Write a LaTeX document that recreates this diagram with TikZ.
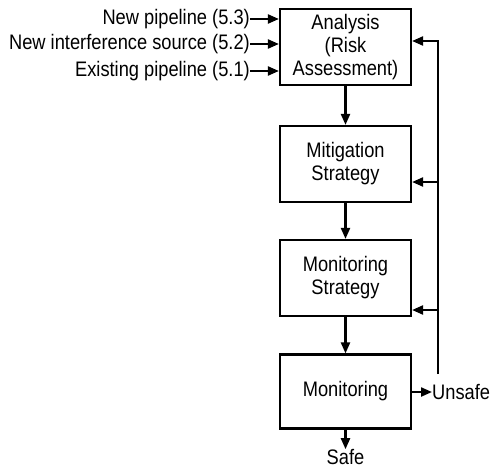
\documentclass[tikz,border=0pt]{standalone}
\usepackage{fontspec}
\setmainfont{Liberation Sans}[FakeStretch=0.87]
\usetikzlibrary{arrows.meta}
\begin{document}
\begin{tikzpicture}[x=1pt,y=-1pt,
  box/.style={draw,line width=2.2pt,minimum width=131pt,minimum height=76pt,align=center,inner sep=0pt,font=\fontsize{21}{23}\selectfont},
  lbl/.style={inner sep=0pt,font=\fontsize{21}{23}\selectfont},
  arr/.style={line width=2.2pt,-{Triangle[length=11pt,width=9pt]}}]
\useasboundingbox (0,0) rectangle (492,471);
\node[box] (an) at (345.5,47) {Analysis\\(Risk\\Assessment)};
\node[box] (mit) at (345.5,164) {Mitigation\\Strategy};
\node[box] (ms) at (345.5,278) {Monitoring\\Strategy};
\node[box,minimum height=74pt] (mon) at (345.5,391.5) {Monitoring};
\node[lbl,anchor=east] (in3) at (250,19) {New pipeline (5.3)};
\node[lbl,anchor=east] (in2) at (250,44) {New interference source (5.2)};
\node[lbl,anchor=east] (in1) at (250,71) {Existing pipeline (5.1)};
\node[lbl,anchor=west] (uns) at (432,392) {Unsafe};
\node[lbl,anchor=south] (safe) at (345.5,465) {Safe};
\coordinate (fbbot) at (438,374);
\coordinate (fbtop) at (438,41);
\coordinate (fbmit) at (438,182);
\coordinate (fbms) at (438,310);
\draw[arr] (in3.east) -- (an.west |- in3.east);
\draw[arr] (in2.east) -- (an.west |- in2.east);
\draw[arr] (in1.east) -- (an.west |- in1.east);
\draw[arr] (an) -- (mit);
\draw[arr] (mit) -- (ms);
\draw[arr] (ms) -- (mon);
\draw[arr] (mon) -- (safe);
\draw[arr] (mon.east |- uns.west) -- (uns.west);
\draw[arr] (fbbot) -- (fbtop) -- (an.east |- fbtop);
\draw[arr] (fbmit) -- (mit.east |- fbmit);
\draw[arr] (fbms) -- (ms.east |- fbms);
\end{tikzpicture}
\end{document}
